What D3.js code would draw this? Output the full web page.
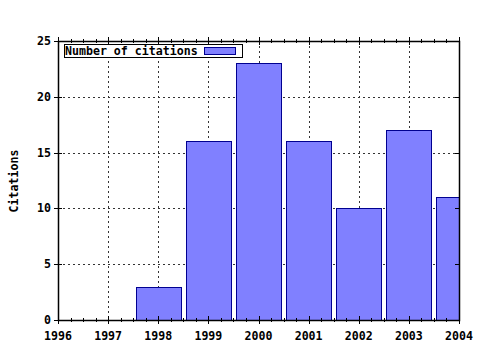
<!DOCTYPE html>
<html><head><meta charset="utf-8">
<script src="https://cdn.jsdelivr.net/npm/d3@7"></script>
<style>body{margin:0;background:#fff}svg{display:block}text{font-family:"DejaVu Sans Mono",monospace;font-weight:bold;font-size:11.6px}</style>
</head><body>
<script>
const years = [1998, 1999, 2000, 2001, 2002, 2003, 2004];
const citations = [3, 16, 23, 16, 10, 17, 11];
const xTicks = [1996, 1997, 1998, 1999, 2000, 2001, 2002, 2003, 2004];
const yTicks = [0, 5, 10, 15, 20, 25];
const legendLabel = "Number of citations";
const yLabel = "Citations";

const W = 480, H = 350;
const L = 58, R = 459, T = 41, B = 320;
const svg = d3.select("body").append("svg").attr("width", W).attr("height", H);
const x = d3.scaleLinear().domain([1996, 2004]).range([L, R]);
const y = d3.scaleLinear().domain([0, 25]).range([B, T]);

svg.append("clipPath").attr("id", "c").append("rect").attr("x", L).attr("y", T).attr("width", R - L).attr("height", B - T);

// grid
const g = svg.append("g").attr("stroke", "#333").attr("stroke-dasharray", "2,3").attr("stroke-width", 1);
xTicks.slice(1, -1).forEach(t => g.append("line").attr("x1", Math.round(x(t)) + 0.5).attr("x2", Math.round(x(t)) + 0.5).attr("y1", T).attr("y2", B));
yTicks.slice(1, -1).forEach(t => g.append("line").attr("y1", Math.round(y(t)) + 0.5).attr("y2", Math.round(y(t)) + 0.5).attr("x1", L).attr("x2", R));

// bars
const bw = (x(1997) - x(1996)) * 0.9;
svg.append("g").attr("clip-path", "url(#c)").selectAll("rect").data(years).join("rect")
  .attr("x", (d) => Math.round(x(d) - bw / 2) + 0.5)
  .attr("y", (d, i) => Math.round(y(citations[i])) + 0.5)
  .attr("width", Math.round(bw))
  .attr("height", (d, i) => Math.round(B - y(citations[i])))
  .attr("fill", "#8080ff").attr("stroke", "#000090").attr("stroke-width", 1);

// frame
svg.append("rect").attr("x", L + 0.5).attr("y", T + 0.5).attr("width", R - L).attr("height", B - T)
  .attr("fill", "none").attr("stroke", "#000").attr("stroke-width", 1.5);

// ticks
const tk = svg.append("g").attr("stroke", "#000").attr("stroke-width", 1);
const minor = d3.range(1996, 2004.001, 0.25);
minor.forEach(t => {
  const px = Math.round(x(t)) + 0.5;
  const major = Math.abs(t - Math.round(t)) < 1e-6;
  const len = major ? 4 : 2;
  tk.append("line").attr("x1", px).attr("x2", px).attr("y1", B - len).attr("y2", B + len);
  tk.append("line").attr("x1", px).attr("x2", px).attr("y1", T - len).attr("y2", T + len);
});
yTicks.forEach(t => {
  const py = Math.round(y(t)) + 0.5;
  tk.append("line").attr("x1", L - 4).attr("x2", L + 4).attr("y1", py).attr("y2", py);
  tk.append("line").attr("x1", R - 4).attr("x2", R).attr("y1", py).attr("y2", py);
});

// labels
svg.append("g").selectAll("text").data(xTicks).join("text")
  .attr("x", d => x(d)).attr("y", 340).attr("text-anchor", "middle").text(d => d);
svg.append("g").selectAll("text").data(yTicks).join("text")
  .attr("x", 51).attr("y", d => y(d) + 4).attr("text-anchor", "end").text(d => d);
svg.append("text").attr("transform", "translate(18,181) rotate(-90)").attr("text-anchor", "middle").text(yLabel);

// legend
svg.append("rect").attr("x", 64.5).attr("y", 44.5).attr("width", 178).attr("height", 13).attr("fill", "#fff").attr("stroke", "#000");
svg.append("text").attr("x", 65).attr("y", 55).text(legendLabel);
svg.append("rect").attr("x", 204.5).attr("y", 47.5).attr("width", 31).attr("height", 7).attr("fill", "#8080ff").attr("stroke", "#000090");
</script>
</body></html>
